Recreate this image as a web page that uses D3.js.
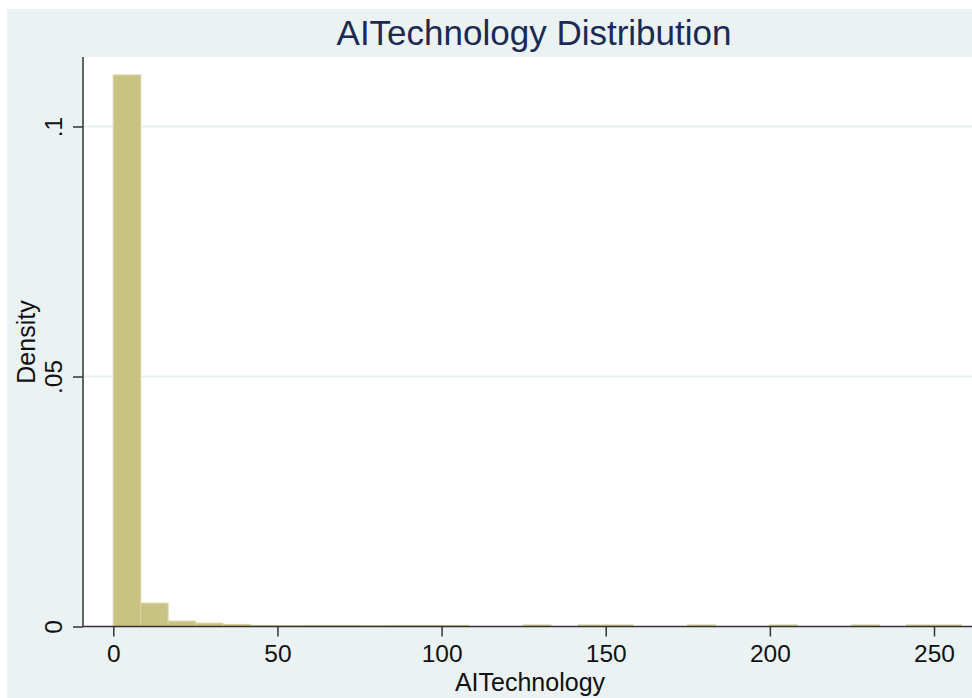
<!DOCTYPE html>
<html>
<head>
<meta charset="utf-8">
<script src="https://cdn.jsdelivr.net/npm/d3@7"></script>
<style>
  body { margin: 0; background: #fff; }
  svg { display: block; font-family: "Liberation Sans", Arial, sans-serif; }
</style>
</head>
<body>
<script>
const WIDTH = 972;
const HEIGHT = 698;

// bin lower edges (width 250/30) and the density of each bin
const binWidth = 8.3333;
const binStarts = [0, 8.333, 16.667, 25, 33.333, 41.667, 50, 58.333, 66.667, 75,
  83.333, 91.667, 100, 108.333, 116.667, 125, 133.333, 141.667, 150, 158.333,
  166.667, 175, 183.333, 191.667, 200, 208.333, 216.667, 225, 233.333, 241.667, 250];
const densities = [0.1103, 0.00466, 0.00106, 0.00066, 0.0004, 0.0002, 0.00015, 0.0002, 0.0002, 0.00015,
  0.0002, 0.0002, 0.0002, 0, 0, 0.0003, 0, 0.0003, 0.0003, 0,
  0, 0.0003, 0, 0, 0.0003, 0, 0, 0.0003, 0, 0.0003, 0.0003];

const xTicks = [0, 50, 100, 150, 200, 250];
const yTicks = [0, 0.05, 0.1];
const yTickLabels = ["0", ".05", ".1"];

const svg = d3.select("body").append("svg")
  .attr("width", WIDTH)
  .attr("height", HEIGHT);

// fondo gris azulado de Stata
svg.append("rect")
  .attr("x", 7).attr("y", 9)
  .attr("width", WIDTH - 7).attr("height", HEIGHT - 9)
  .attr("fill", "#eaf2f3");

const plot = { left: 83, right: 972, top: 57, bottom: 626.5 };

svg.append("rect")
  .attr("x", plot.left).attr("y", plot.top)
  .attr("width", plot.right - plot.left).attr("height", plot.bottom - plot.top)
  .attr("fill", "#ffffff");

const x = d3.scaleLinear().domain([0, 250]).range([113.3, 934]);
const y = d3.scaleLinear().domain([0, 0.1]).range([plot.bottom, 126.5]);

// lineas de grilla
svg.append("g")
  .selectAll("line")
  .data(yTicks.filter(d => d > 0))
  .join("line")
  .attr("x1", plot.left).attr("x2", plot.right)
  .attr("y1", d => y(d)).attr("y2", d => y(d))
  .attr("stroke", "#e6eff1")
  .attr("stroke-width", 2);

// barras del histograma
const bins = binStarts.map((s, i) => ({ x0: s, x1: s + binWidth, d: densities[i] }))
  .filter(b => b.d > 0);

svg.append("g")
  .selectAll("rect")
  .data(bins)
  .join("rect")
  .attr("x", b => x(b.x0))
  .attr("width", b => x(b.x1) - x(b.x0))
  .attr("y", b => y(b.d))
  .attr("height", b => y(0) - y(b.d))
  .attr("fill", "#c9c383")
  .attr("stroke", "#d6d29e")
  .attr("stroke-width", 1.2);

// eje x
const xAxis = svg.append("g")
  .attr("transform", `translate(0,${plot.bottom})`)
  .call(d3.axisBottom(x).tickValues(xTicks).tickSize(10).tickPadding(8).tickSizeOuter(0)
    .tickFormat(d3.format("d")));
xAxis.select(".domain").attr("d", `M${plot.left},0H${plot.right}`)
  .attr("stroke", "#333").attr("stroke-width", 1.5);
xAxis.selectAll(".tick line").attr("stroke", "#333").attr("stroke-width", 1.5);
xAxis.selectAll(".tick text")
  .attr("font-size", 24.5)
  .attr("fill", "#111")
  .attr("font-family", "Liberation Sans, Arial, sans-serif");

// eje y
const yAxis = svg.append("g")
  .attr("transform", `translate(${plot.left},0)`)
  .call(d3.axisLeft(y).tickValues(yTicks).tickSize(10).tickSizeOuter(0)
    .tickFormat((d, i) => yTickLabels[i]));
yAxis.select(".domain").attr("d", `M0,${plot.top}V${plot.bottom}`)
  .attr("stroke", "#333").attr("stroke-width", 1.5);
yAxis.selectAll(".tick line").attr("stroke", "#333").attr("stroke-width", 1.5);
yAxis.selectAll(".tick text")
  .attr("x", null).attr("dy", null)
  .attr("transform", "translate(-21,0) rotate(-90)")
  .attr("text-anchor", "middle")
  .attr("font-size", 24.5)
  .attr("fill", "#111")
  .attr("font-family", "Liberation Sans, Arial, sans-serif");

// titulos
svg.append("text")
  .attr("x", 534).attr("y", 45)
  .attr("text-anchor", "middle")
  .attr("font-size", 35)
  .attr("fill", "#1a2a52")
  .text("AITechnology Distribution");

svg.append("text")
  .attr("x", 530).attr("y", 691)
  .attr("text-anchor", "middle")
  .attr("font-size", 25)
  .attr("fill", "#111")
  .text("AITechnology");

svg.append("text")
  .attr("transform", "translate(35,342) rotate(-90)")
  .attr("text-anchor", "middle")
  .attr("font-size", 25)
  .attr("fill", "#111")
  .text("Density");
</script>
</body>
</html>
